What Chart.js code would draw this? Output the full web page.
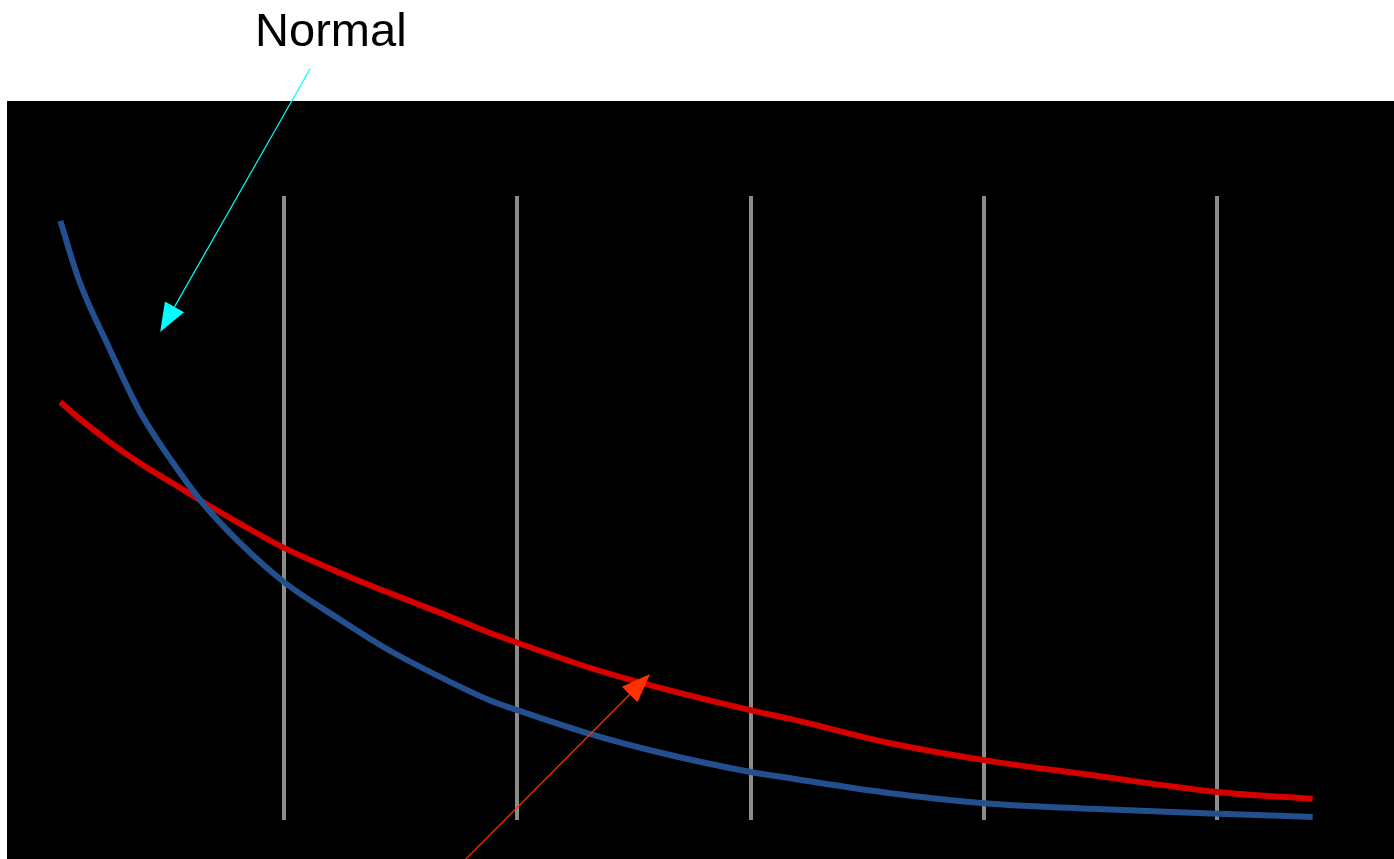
<!DOCTYPE html>
<html>
<head>
<meta charset="utf-8">
<title>Normal</title>
<script src="https://cdn.jsdelivr.net/npm/chart.js@4.4.1/dist/chart.umd.min.js"></script>
<style>
    body { margin: 0; background: #ffffff; }
    canvas { display: block; }
</style>
</head>
<body>
<canvas id="grafico" width="1394" height="859"></canvas>
<script>
// Datos (eje x: las líneas verticales están en 1..5, eje y: 0..100)
const tiempos = [0.04, 0.12, 0.25, 0.38, 0.52, 0.65, 0.81, 1.0, 1.24, 1.45, 1.67,
                 1.88, 2.0, 2.31, 2.6, 3.0, 3.17, 3.6, 4.0, 4.46, 5.0, 5.41];
const serieAzul = [96.0, 86.5, 75.6, 65.5, 57.4, 50.8, 44.4, 38.1, 32.1, 27.2, 22.9,
                   19.2, 17.6, 13.8, 10.9, 7.7, 6.7, 4.3, 2.7, 1.8, 1.0, 0.5];
const serieRoja = [67.0, 64.4, 60.6, 57.2, 54.0, 51.0, 47.5, 43.6, 39.6, 36.4, 33.2,
                   30.0, 28.4, 24.4, 21.3, 17.6, 16.2, 12.3, 9.6, 7.2, 4.5, 3.4];
const lineasVerticales = [1, 2, 3, 4, 5];
const etiqueta = "Normal";

// Fondo: blanco arriba y el recuadro negro
const fondo = {
    id: 'fondo',
    beforeDraw(chart) {
        const c = chart.ctx;
        c.save();
        c.fillStyle = '#ffffff';
        c.fillRect(0, 0, chart.width, chart.height);
        c.fillStyle = '#000000';
        c.fillRect(7, 101, chart.width - 7, chart.height - 101);
        c.restore();
    }
};

// Flecha con punta triangular, en coordenadas de datos
function flecha(chart, desde, hasta, color) {
    const c = chart.ctx;
    const sx = chart.scales.x, sy = chart.scales.y;
    const x1 = sx.getPixelForValue(desde[0]), y1 = sy.getPixelForValue(desde[1]);
    const x2 = sx.getPixelForValue(hasta[0]), y2 = sy.getPixelForValue(hasta[1]);
    const len = Math.hypot(x2 - x1, y2 - y1);
    const ux = (x2 - x1) / len, uy = (y2 - y1) / len;
    const largo = 29, ancho = 11;
    const bx = x2 - ux * largo, by = y2 - uy * largo;

    c.save();
    c.strokeStyle = color;
    c.fillStyle = color;
    c.lineWidth = 1.2;
    c.beginPath();
    c.moveTo(x1, y1);
    c.lineTo(bx, by);
    c.stroke();
    c.beginPath();
    c.moveTo(x2, y2);
    c.lineTo(bx - uy * ancho, by + ux * ancho);
    c.lineTo(bx + uy * ancho, by - ux * ancho);
    c.closePath();
    c.fill();
    c.restore();
}

const anotaciones = {
    id: 'anotaciones',
    afterDraw(chart) {
        const c = chart.ctx;
        const sx = chart.scales.x, sy = chart.scales.y;

        c.save();
        c.fillStyle = '#000000';
        c.font = '47px "Liberation Sans", Arial, sans-serif';
        c.textAlign = 'center';
        c.textBaseline = 'alphabetic';
        c.fillText(etiqueta, sx.getPixelForValue(1.2), sy.getPixelForValue(124));
        c.restore();

        flecha(chart, [1.111, 120.4], [0.468, 78.2], '#00ffff');
        flecha(chart, [1.775, -6.4], [2.569, 23.4], '#ff3300');
    }
};

const ctx = document.getElementById('grafico');
window.myChart = new Chart(ctx, {
    type: 'line',
    data: {
        datasets: [{
            label: 'Azul',
            data: tiempos.map((t, i) => ({ x: t, y: serieAzul[i] })),
            borderColor: '#234f8e',
            borderWidth: 6,
            pointRadius: 0,
            cubicInterpolationMode: 'monotone'
        }, {
            label: 'Roja',
            data: tiempos.map((t, i) => ({ x: t, y: serieRoja[i] })),
            borderColor: '#d40000',
            borderWidth: 6,
            pointRadius: 0,
            cubicInterpolationMode: 'monotone'
        }]
    },
    options: {
        responsive: false,
        animation: false,
        layout: {
            padding: { left: 51, right: 37, top: 196, bottom: 39 }
        },
        plugins: {
            legend: { display: false },
            tooltip: { enabled: false }
        },
        scales: {
            x: {
                type: 'linear',
                min: 0,
                max: 5.6,
                afterBuildTicks: (escala) => {
                    escala.ticks = lineasVerticales.map(v => ({ value: v }));
                },
                ticks: { display: false },
                border: { display: false },
                grid: {
                    color: '#8c8c87',
                    lineWidth: 4,
                    drawTicks: false
                }
            },
            y: {
                min: 0,
                max: 100,
                display: false
            }
        }
    },
    plugins: [fondo, anotaciones]
});
</script>
</body>
</html>
